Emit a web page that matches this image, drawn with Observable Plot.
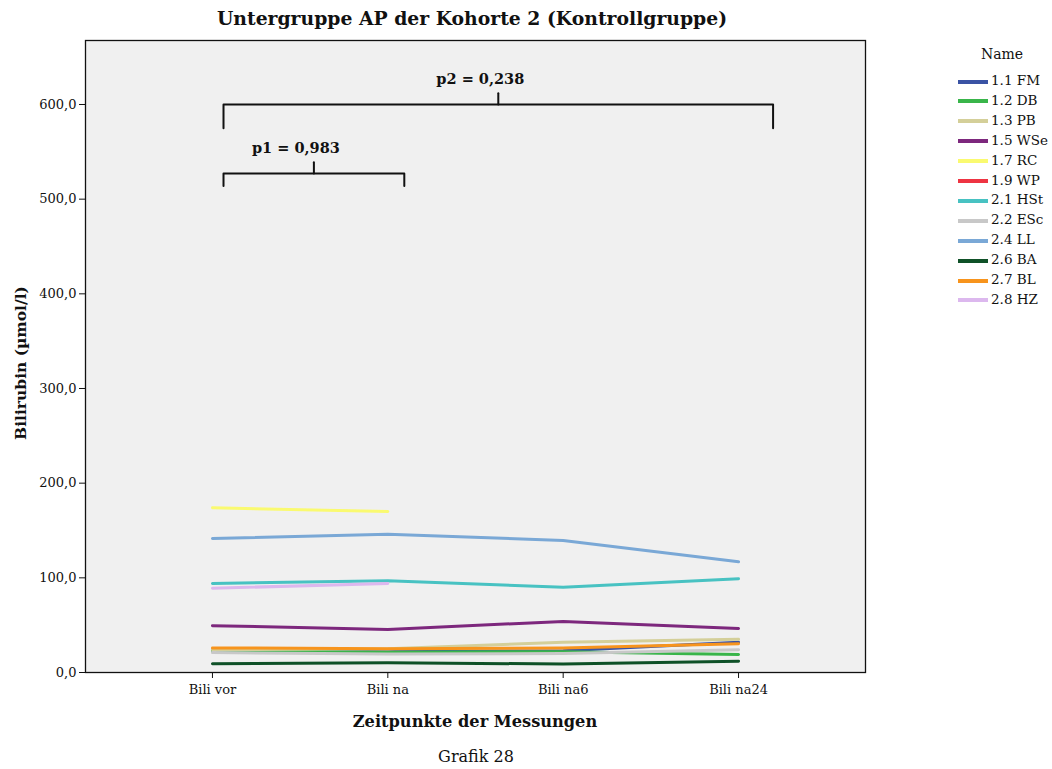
<!DOCTYPE html>
<html><head><meta charset="utf-8">
<script src="https://cdn.jsdelivr.net/npm/d3@7"></script>
<script src="https://cdn.jsdelivr.net/npm/@observablehq/plot@0.6"></script>
<style>
body{margin:0;background:#fff;font-family:"DejaVu Serif",serif;}
#wrap{position:relative;width:1052px;height:769px;}
.abs{position:absolute;white-space:nowrap;color:#111;}
</style></head><body>
<div id="wrap"></div>
<script>
const timepoints = ["Bili vor", "Bili na", "Bili na6", "Bili na24"];
const names = ["1.1 FM","1.2 DB","1.3 PB","1.5 WSe","1.7 RC","1.9 WP","2.1 HSt","2.2 ESc","2.4 LL","2.6 BA","2.7 BL","2.8 HZ"];
const colors = ["#3a53a4","#39b54a","#d4cf99","#7d287d","#fafa70","#ee3442","#48c2c2","#c8c8c8","#7aa8d6","#0f5128","#f7941d","#dcb8ee"];
const v_FM  = [24, 22, 23, 32];
const v_DB  = [23, 21.5, 22, 19];
const v_PB  = [24, 25, 32, 35];
const v_WSe = [49.5, 45.5, 54, 46.5];
const v_RC  = [174, 170, null, null];
const v_WP  = [null, null, null, null];
const v_HSt = [94, 97, 90, 99];
const v_ESc = [21, 19.5, 20, 24];
const v_LL  = [141.5, 146, 139.5, 117];
const v_BA  = [9.2, 10.2, 9, 12];
const v_BL  = [26, 25, 26, 30.3];
const v_HZ  = [89, 94, null, null];
const seriesValues = [v_FM, v_DB, v_PB, v_WSe, v_RC, v_WP, v_HSt, v_ESc, v_LL, v_BA, v_BL, v_HZ];
const yTicks = [0, 100, 200, 300, 400, 500, 600];
// significance brackets (x in time-point index units, y in µmol/l)
const brackets = [
  {label: "p1 = 0,983", x1: 0.063, x2: 1.094, y: 527, yEnd: 514, yTop: 539},
  {label: "p2 = 0,238", x1: 0.063, x2: 3.197, y: 600, yEnd: 575, yTop: 612}
];

const rows = [];
names.forEach((n, i) => seriesValues[i].forEach((v, j) => {
  if (v != null) rows.push({name: n, t: j, v});
}));
const bracketLines = [];
brackets.forEach((b, k) => {
  const xm = (b.x1 + b.x2) / 2;
  bracketLines.push({k, part: "h", x: b.x1, y: b.yEnd}, {k, part: "h", x: b.x1, y: b.y}, {k, part: "h", x: b.x2, y: b.y}, {k, part: "h", x: b.x2, y: b.yEnd});
  bracketLines.push({k, part: "c", x: xm, y: b.y}, {k, part: "c", x: xm, y: b.yTop});
});
const fmt = d3.format(".1f");
const serif = "'DejaVu Serif', serif";

const chart = Plot.plot({
  width: 1052, height: 769,
  marginLeft: 85, marginRight: 187, marginTop: 40, marginBottom: 97,
  style: {fontFamily: serif, fontSize: "12px", color: "#111", background: "transparent"},
  x: {domain: [-0.724, 3.724], ticks: [0,1,2,3], tickFormat: i => timepoints[i], tickSize: 6, label: null},
  y: {domain: [0, 667.6], ticks: yTicks, tickFormat: d => fmt(d).replace(".", ","), tickSize: 6, label: null},
  color: {domain: names, range: colors},
  marks: [
    Plot.frame({fill: "#f0f0f0", stroke: "none"}),
    Plot.line(rows, {x: "t", y: "v", z: "name", stroke: "name", strokeWidth: 3, strokeLinejoin: "round"}),
    Plot.line(bracketLines, {x: "x", y: "y", z: d => d.k + d.part, stroke: "#111", strokeWidth: 2}),
    Plot.text(brackets, {x: d => (d.x1 + d.x2) / 2, y: "yTop", text: "label", dy: -14, dx: -18, fontWeight: "bold", fontSize: 14.5, fill: "#111"}),
    Plot.axisX({ticks: [0,1,2,3], tickFormat: i => timepoints[i], tickSize: 6, fontSize: 13, tickPadding: 6, stroke: "#111"}),
    Plot.axisY({ticks: yTicks, tickFormat: d => fmt(d).replace(".", ","), tickSize: 6, fontSize: 13, tickPadding: 3, stroke: "#111"}),
    Plot.frame({stroke: "#111", strokeWidth: 1.3})
  ]
});
const wrap = document.getElementById("wrap");
chart.style.position = "absolute"; chart.style.left = "0"; chart.style.top = "0";
wrap.appendChild(chart);

function addText(txt, css) {
  const d = document.createElement("div");
  d.className = "abs"; d.textContent = txt;
  Object.assign(d.style, css);
  wrap.appendChild(d);
  return d;
}
addText("Untergruppe AP der Kohorte 2 (Kontrollgruppe)", {left: "0", width: "944px", textAlign: "center", top: "7px", fontSize: "18.8px", fontWeight: "bold"});
addText("Zeitpunkte der Messungen", {left: "85px", width: "780px", textAlign: "center", top: "712px", fontSize: "16.2px", fontWeight: "bold"});
addText("Grafik 28", {left: "85px", width: "782px", textAlign: "center", top: "747px", fontSize: "16px"});
addText("Bilirubin (µmol/l)", {left: "20px", top: "363px", fontSize: "15.5px", fontWeight: "bold", transform: "translate(-50%,-50%) rotate(-90deg)"});
addText("Name", {left: "955px", width: "94px", textAlign: "center", top: "46px", fontSize: "14px"});
names.forEach((n, i) => {
  const top = 72 + i * 19.9;
  const sw = document.createElement("div");
  Object.assign(sw.style, {position: "absolute", left: "958px", top: (top + 7.5) + "px", width: "30px", height: "4px", background: colors[i]});
  wrap.appendChild(sw);
  addText(n, {left: "991px", top: top + "px", fontSize: "13.5px"});
});
</script>
</body></html>
